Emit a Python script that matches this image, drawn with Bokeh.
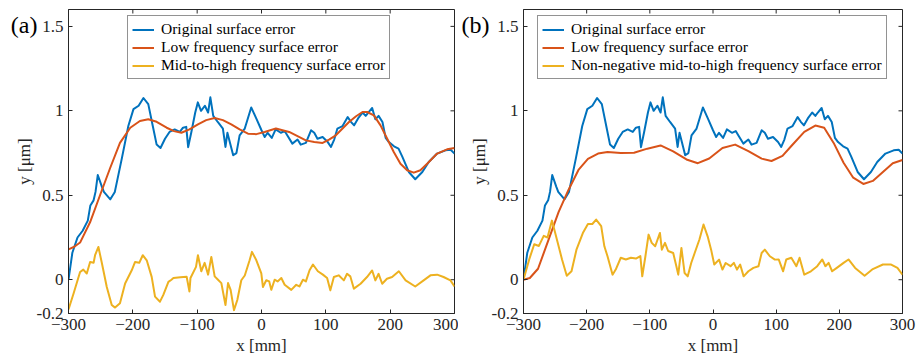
import math
from bokeh.plotting import figure
from bokeh.layouts import row
from bokeh.models import LinearAxis, FixedTicker
from bokeh.embed import file_html
from bokeh.resources import INLINE

# ---------------- data ----------------
orig_x = [-300, -294, -286, -278, -270, -266, -261, -258, -254.5, -248,
          -245, -235, -228, -217, -207, -199, -191, -183.5, -176, -169,
          -163, -157, -150, -143, -135, -127, -122, -117, -114, -109,
          -103, -99, -94, -88, -83, -79.5, -75, -68, -60, -56,
          -53, -44, -39, -34, -26, -16, -8, 0, 5, 9.5,
          16, 22, 30, 36, 40, 48, 56, 61, 69, 77,
          82, 87, 95, 103, 108, 113, 118, 126, 134, 139,
          144, 151, 157, 162, 166, 172, 177, 182, 188, 193,
          198, 206, 213, 219, 229, 239, 250, 260, 273, 286,
          294, 300]
orig_y = [0, 0.16, 0.25, 0.29, 0.35, 0.44, 0.47, 0.52, 0.62, 0.55,
          0.52, 0.476, 0.52, 0.72, 0.91, 1.01, 1.03, 1.076, 1.04, 0.91,
          0.80, 0.78, 0.835, 0.875, 0.89, 0.875, 0.90, 0.905, 0.785, 0.875,
          0.99, 1.05, 1.00, 1.03, 0.99, 1.08, 0.97, 0.934, 0.895, 0.786,
          0.87, 0.737, 0.75, 0.855, 0.895, 1.02, 0.954, 0.885, 0.845, 0.87,
          0.84, 0.89, 0.87, 0.88, 0.855, 0.806, 0.83, 0.80, 0.81, 0.885,
          0.87, 0.835, 0.845, 0.815, 0.786, 0.83, 0.895, 0.91, 0.963, 0.935,
          0.914, 0.96, 0.99, 0.97, 0.99, 1.017, 0.95, 0.97, 0.934, 0.84,
          0.815, 0.79, 0.776, 0.727, 0.638, 0.595, 0.638, 0.697, 0.747, 0.766,
          0.77, 0.747]

low_a_x = [-300, -291, -282, -266.5, -251, -235.4, -220, -204, -189, -176,
           -163, -147.4, -136, -124.5, -112, -98.8, -86, -72.8, -60, -47,
           -34, -21, -8, 4.8, 22.4, 43, 56, 69, 82, 95,
           105, 115.5, 126, 136, 147, 157, 164.3, 174.7, 185, 195.4,
           205.6, 216, 226.4, 236.7, 247, 257.5, 273, 288.5, 300]
low_a_y = [0.18, 0.195, 0.22, 0.34, 0.50, 0.66, 0.81, 0.90, 0.94, 0.95,
           0.935, 0.90, 0.88, 0.87, 0.89, 0.92, 0.945, 0.957, 0.945, 0.92,
           0.89, 0.865, 0.862, 0.875, 0.895, 0.875, 0.85, 0.825, 0.815, 0.81,
           0.83, 0.855, 0.895, 0.934, 0.968, 0.993, 0.993, 0.973, 0.914, 0.835,
           0.756, 0.687, 0.648, 0.634, 0.648, 0.687, 0.747, 0.772, 0.78]

mid_a_x = [-300, -292, -282, -277, -271.6, -266.4, -261, -258.7, -253.5, -248,
           -240.5, -232.8, -227.6, -220, -212, -201.7, -196.5, -190, -184.6, -178.4,
           -170.7, -165.5, -157.8, -152.6, -144.7, -140, -136.9, -126, -116.3, -112,
           -110.4, -101.8, -98.8, -93.6, -88.4, -83, -78, -72.8, -67.6, -62.4,
           -56, -52, -48, -42.8, -37.6, -31.4, -26, -18.5, -14.8, -8,
           -0.3, 2.2, 7.4, 12, 15.2, 20.4, 25, 30.8, 36, 46.3,
           54, 59, 64.4, 69, 74.7, 80, 87.6, 95.4, 102, 107,
           112.5, 120, 128, 133, 138, 143.6, 154, 164, 172, 177,
           182, 187.6, 195, 203, 213.5, 224, 239, 252, 262.6, 273,
           283, 293.7, 300]
mid_a_y = [-0.176, -0.08, 0.046, 0.06, 0.037, 0.105, 0.10, 0.145, 0.194, 0.096,
           -0.043, -0.15, -0.165, -0.14, -0.022, 0.056, 0.105, 0.10, 0.145, 0.115,
           0.017, -0.10, -0.13, -0.09, -0.013, 0.0, 0.01, 0.015, 0.017, -0.07,
           0.01, 0.076, 0.145, 0.05, 0.10, 0.03, 0.135, 0.02, 0.0, -0.02,
           -0.15, -0.02, -0.06, -0.18, -0.12, -0.003, 0.025, 0.115, 0.165, 0.115,
           0.037, -0.043, -0.003, -0.01, -0.06, 0.0, -0.01, 0.01, -0.03, -0.06,
           -0.03, -0.04, 0.0, -0.01, 0.056, 0.09, 0.05, 0.03, 0.01, -0.063,
           0.016, 0.026, -0.004, 0.035, 0.02, -0.053, -0.024, 0.016, 0.055, -0.004,
           0.035, -0.024, 0.006, 0.016, 0.05, -0.004, -0.04, -0.004, 0.026, 0.03,
           0.016, -0.004, -0.04]

low_b_x = [-300, -290, -277, -260, -244.5, -229, -213, -198, -182, -167,
           -146, -125, -104, -83, -63, -42, -24, -6, 15, 35,
           56, 77, 92.6, 110, 124, 144.5, 162, 176, 191, 206.7,
           222, 238, 253, 269, 284.6, 300]
low_b_y = [0, 0.01, 0.065, 0.24, 0.40, 0.53, 0.65, 0.715, 0.747, 0.756,
           0.75, 0.752, 0.776, 0.795, 0.76, 0.712, 0.69, 0.718, 0.78, 0.80,
           0.762, 0.717, 0.703, 0.733, 0.792, 0.875, 0.913, 0.9, 0.81, 0.693,
           0.604, 0.567, 0.585, 0.638, 0.69, 0.709]

mid_b_x = [-300, -291, -283, -275.6, -268, -262, -255, -250, -239, -231.5,
           -224, -216, -205.6, -198, -191, -185, -177, -172, -167, -159,
           -154, -146, -138, -130, -122, -115, -112, -107, -102, -97,
           -91.5, -84, -81, -76, -71, -63, -58, -55, -50, -45,
           -40, -34.5, -29, -21.5, -15, -8.5, -3, 2, 9.6, 15,
           20, 27.8, 33, 38, 43, 48.5, 56, 64, 72, 77,
           82, 90, 98, 104, 111, 116, 124, 132, 137, 144.5,
           155, 165, 173, 178, 183, 188.6, 196, 206.7, 214.5, 225,
           240, 253, 269, 282, 292, 300]
mid_b_y = [0, 0.12, 0.21, 0.20, 0.26, 0.25, 0.35, 0.28, 0.12, 0.024,
           0.05, 0.18, 0.28, 0.33, 0.33, 0.356, 0.317, 0.198, 0.139, 0.03,
           0.06, 0.13, 0.12, 0.13, 0.125, 0.14, 0.02, 0.139, 0.267, 0.218,
           0.198, 0.277, 0.178, 0.218, 0.17, 0.158, 0.08, 0.03, 0.188, 0.04,
           0.02, 0.099, 0.158, 0.238, 0.327, 0.257, 0.178, 0.09, 0.119, 0.06,
           0.099, 0.08, 0.1, 0.06, 0.09, 0.02, 0.05, 0.07, 0.08, 0.158,
           0.178, 0.139, 0.119, 0.12, 0.05, 0.12, 0.13, 0.08, 0.13, 0.03,
           0.05, 0.08, 0.12, 0.08, 0.1, 0.05, 0.07, 0.1, 0.12, 0.07,
           0.024, 0.063, 0.09, 0.09, 0.07, 0.03]

x_ticks = [-300, -200, -100, 0, 100, 200, 300]
y_ticks = [-0.2, 0, 0.5, 1, 1.5]
y_tick_labels = ["-0.2", "0", "0.5", "1", "1.5"]
X_MIN, X_MAX, Y_MIN, Y_MAX = -300, 300, -0.2, 1.6

labels_a = ["Original surface error", "Low frequency surface error",
            "Mid-to-high frequency surface error"]
labels_b = ["Original surface error", "Low frequency surface error",
            "Non-negative mid-to-high frequency surface error"]

BLUE, ORANGE, YELLOW = "#0072BD", "#D95319", "#EDB120"
FONT = "Liberation Serif"
AX = "#262626"


def style_axis(ax, ticks):
    ax.ticker = FixedTicker(ticks=ticks)
    ax.major_tick_in = 4
    ax.major_tick_out = 0
    ax.minor_tick_in = 0
    ax.minor_tick_out = 0
    ax.major_tick_line_color = AX
    ax.axis_line_color = AX
    ax.axis_line_width = 1
    ax.major_label_text_font = FONT
    ax.major_label_text_font_size = "17px"
    ax.major_label_text_color = AX
    ax.major_label_standoff = 5
    ax.axis_label_text_font = FONT
    ax.axis_label_text_font_size = "17px"
    ax.axis_label_text_font_style = "normal"
    ax.axis_label_text_color = AX


def make_panel(width, left, right, low_x, low_y, mid_x, mid_y, labels, tag,
               tag_standoff, leg_x):
    p = figure(width=width, height=358, x_range=(X_MIN, X_MAX),
               y_range=(Y_MIN, Y_MAX),
               output_backend="svg", toolbar_location=None,
               min_border_left=left, min_border_right=right,
               min_border_top=9, min_border_bottom=45)
    p.grid.visible = False
    p.outline_line_color = AX
    p.background_fill_color = "white"
    p.border_fill_color = "white"

    xb = p.xaxis[0]
    yl = p.yaxis[0]
    style_axis(xb, x_ticks)
    style_axis(yl, y_ticks)
    xb.axis_label = "x [mm]"
    xb.axis_label_standoff = 3
    yl.axis_label = "y [\u03bcm]"
    yl.axis_label_standoff = 0
    yl.major_label_overrides = {t: s for t, s in zip(y_ticks, y_tick_labels)}

    # panel tag "(a)" / "(b)" as an outer left axis label (no tick, no line)
    tag_ax = LinearAxis()
    tag_ax.ticker = FixedTicker(ticks=[1.51])
    tag_ax.major_label_overrides = {1.51: tag}
    tag_ax.major_tick_in = 0
    tag_ax.major_tick_out = 0
    tag_ax.minor_tick_in = 0
    tag_ax.minor_tick_out = 0
    tag_ax.axis_line_color = None
    tag_ax.major_tick_line_color = None
    tag_ax.major_label_text_font = FONT
    tag_ax.major_label_text_font_size = "24px"
    tag_ax.major_label_text_color = "black"
    tag_ax.major_label_standoff = tag_standoff
    p.add_layout(tag_ax, "left")

    # inward tick marks on the top and right edges (box on)
    p.ray(x=x_ticks, y=[Y_MAX] * len(x_ticks), length=4, length_units="screen",
          angle=-math.pi / 2, line_color=AX, line_width=1)
    p.ray(x=[X_MAX] * len(y_ticks), y=y_ticks, length=4, length_units="screen",
          angle=math.pi, line_color=AX, line_width=1)

    p.line(orig_x, orig_y, color=BLUE, line_width=2, line_join="round",
           legend_label=labels[0])
    p.line(low_x, low_y, color=ORANGE, line_width=2, line_join="round",
           legend_label=labels[1])
    p.line(mid_x, mid_y, color=YELLOW, line_width=2, line_join="round",
           legend_label=labels[2])

    lg = p.legend[0]
    lg.location = (leg_x, 234)
    lg.label_text_font = FONT
    lg.label_text_font_size = "15.5px"
    lg.label_text_color = "black"
    lg.glyph_width = 22
    lg.glyph_height = 17
    lg.label_height = 17
    lg.label_standoff = 7
    lg.spacing = 0
    lg.padding = 4
    lg.margin = 0
    lg.border_line_color = AX
    lg.border_line_width = 1
    lg.background_fill_alpha = 1
    return p


p1 = make_panel(458, 68, 4, low_a_x, low_a_y, mid_a_x, mid_a_y, labels_a,
                "(a)", -26, 59)
p2 = make_panel(459, 58, 15, low_b_x, low_b_y, mid_b_x, mid_b_y, labels_b,
                "(b)", -23, 14)

layout = row(p1, p2)
open("out.html", "w").write(file_html(layout, INLINE))
